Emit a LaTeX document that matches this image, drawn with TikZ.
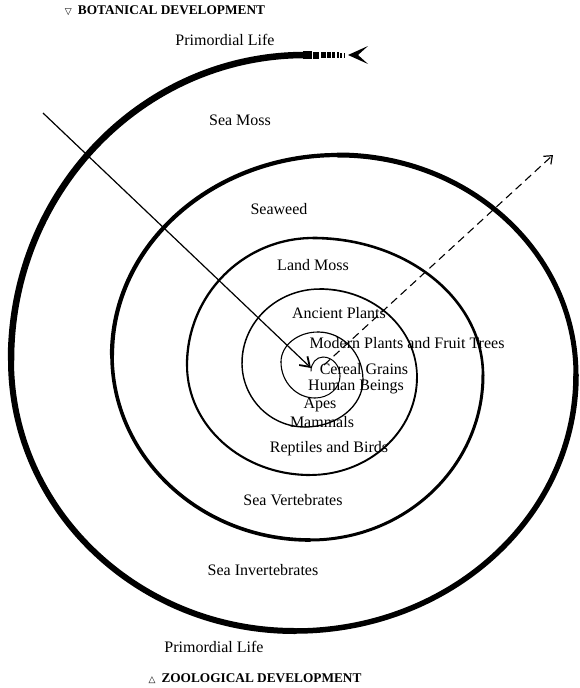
\documentclass[tikz,border=0pt]{standalone}
\usepackage{fontspec}
\setmainfont{Liberation Serif}
\newfontfamily\simbolos{DejaVu Sans}
\usetikzlibrary{arrows.meta}

\begin{document}
\begin{tikzpicture}[
  x=1pt, y=-1pt,
  rotulo/.style={font=\fontsize{16}{18}\selectfont, inner sep=0pt},
  titulo/.style={font=\fontsize{13.3}{16}\selectfont\bfseries, inner sep=0pt},
  espiral/.style={line cap=round},
  seta/.style={line width=1.2pt, -{Straight Barb[length=9pt, width=12pt, line width=1.8pt]}},
  tracejada/.style={line width=1.1pt, dash pattern=on 8pt off 5pt,
                    -{Straight Barb[length=7pt, width=11pt, line width=1.2pt]}}
]
  \useasboundingbox (0,0) rectangle (580,688);

  % Espiral, de fora para dentro
  \draw[espiral, line width=6.5pt] (305,55) arc[start angle=270, end angle=180, x radius=294, y radius=305];
  \draw[espiral, line width=6pt] (11,360) arc[start angle=180, end angle=90, x radius=284, y radius=271];
  \draw[espiral, line width=5.5pt] (295,631) arc[start angle=90, end angle=0, x radius=281, y radius=256];
  \draw[espiral, line width=5pt] (576,375) arc[start angle=360, end angle=270, x radius=238, y radius=220];
  \draw[espiral, line width=4.2pt] (338,155) arc[start angle=270, end angle=180, x radius=226, y radius=200];
  \draw[espiral, line width=3.6pt] (112,355) arc[start angle=180, end angle=90, x radius=198, y radius=185];
  \draw[espiral, line width=3pt] (310,540) arc[start angle=90, end angle=0, x radius=173, y radius=165];
  \draw[espiral, line width=2.6pt] (483,375) arc[start angle=360, end angle=270, x radius=170, y radius=137];
  \draw[espiral, line width=2.3pt] (313,238) arc[start angle=270, end angle=180, x radius=126, y radius=127];
  \draw[espiral, line width=2.1pt] (187,365) arc[start angle=180, end angle=90, x radius=123, y radius=110];
  \draw[espiral, line width=1.9pt] (310,475) arc[start angle=90, end angle=0, x radius=107, y radius=98];
  \draw[espiral, line width=1.7pt] (417,377) arc[start angle=360, end angle=270, x radius=97, y radius=88];
  \draw[espiral, line width=1.5pt] (320,289) arc[start angle=270, end angle=180, x radius=78, y radius=74];
  \draw[espiral, line width=1.4pt] (242,363) arc[start angle=180, end angle=90, x radius=63, y radius=64];
  \draw[espiral, line width=1.3pt] (305,427) arc[start angle=90, end angle=0, x radius=58, y radius=47];
  \draw[espiral, line width=1.2pt] (363,380) arc[start angle=360, end angle=270, x radius=45, y radius=48];
  \draw[espiral, line width=1.1pt] (318,332) arc[start angle=270, end angle=180, x radius=37, y radius=30];
  \draw[espiral, line width=1.1pt] (281,362) arc[start angle=180, end angle=90, x radius=34, y radius=36];
  \draw[espiral, line width=1pt] (315,398) arc[start angle=90, end angle=0, x radius=25, y radius=22];
  \draw[espiral, line width=1pt] (340,376) arc[start angle=360, end angle=270, x radius=17, y radius=19];
  \draw[espiral, line width=1pt] (323,357) arc[start angle=270, end angle=180, x radius=12, y radius=14];

  % Cauda da espiral
  \foreach \xa/\xb/\h in {303.3/311.7/7.5, 313.3/319.3/7, 320.7/325.7/6.5, 327.3/330.7/6,
                         332.3/335/6, 336.7/339/5.5, 340.3/342/5, 343.7/345.3/5}
    \fill (\xa,{55-\h/2}) rectangle (\xb,{55+\h/2});
  \fill (348,55) -- (368,46) -- (358,55) -- (368,64) -- cycle;

  % Setas
  \coordinate (inicio) at (43,113);
  \coordinate (centro) at (311,368);
  \coordinate (saida) at (324,365);
  \coordinate (fora) at (553,155);
  \draw[seta] (inicio) -- (centro);
  \draw[tracejada] (saida) -- (fora);

  % Rotulos
  \node[titulo] (botanico) at (165,11) {{\simbolos\fontsize{9}{10}\selectfont ▽}\hspace{6pt}BOTANICAL DEVELOPMENT};
  \node[rotulo] (vida1) at (225,40) {Primordial Life};
  \node[rotulo] (musgomar) at (240,120) {Sea Moss};
  \node[rotulo] (alga) at (279,209) {Seaweed};
  \node[rotulo] (musgoterra) at (313,265) {Land Moss};
  \node[rotulo] (antigas) at (339,313) {Ancient Plants};
  \node[rotulo] (modernas) at (407,343) {Modern Plants and Fruit Trees};
  \node[rotulo] (cereais) at (364,369) {Cereal Grains};
  \node[rotulo] (humanos) at (356,387) {Human Beings};
  \node[rotulo] (macacos) at (320,405) {Apes};
  \node[rotulo] (mamiferos) at (322,422) {Mammals};
  \node[rotulo] (repteis) at (329,449) {Reptiles and Birds};
  \node[rotulo] (vertebrados) at (293,500) {Sea Vertebrates};
  \node[rotulo] (invertebrados) at (263,570) {Sea Invertebrates};
  \node[rotulo] (vida2) at (214,647) {Primordial Life};
  \node[titulo] (zoologico) at (255,679) {{\simbolos\fontsize{9}{10}\selectfont △}\hspace{6pt}ZOOLOGICAL DEVELOPMENT};
\end{tikzpicture}
\end{document}
